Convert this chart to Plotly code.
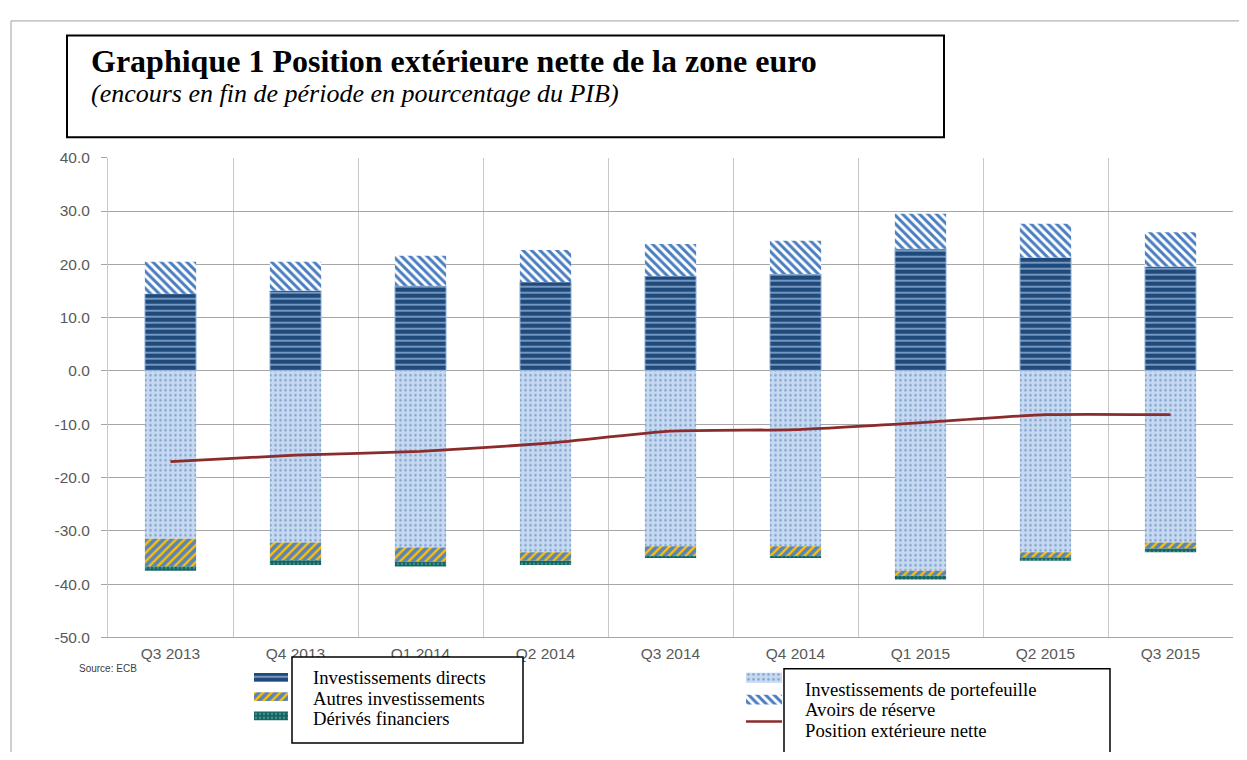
import plotly.graph_objects as go

# ---------------- data ----------------
quarters = ["Q3 2013", "Q4 2013", "Q1 2014", "Q2 2014", "Q3 2014",
            "Q4 2014", "Q1 2015", "Q2 2015", "Q3 2015"]
direct_inv = [14.5, 15.1, 16.0, 16.7, 17.8, 18.2, 22.9, 21.3, 19.6]
reserves = [6.0, 5.4, 5.6, 6.0, 6.0, 6.2, 6.6, 6.3, 6.4]
portfolio = [-31.5, -32.2, -33.1, -34.0, -32.9, -32.9, -37.5, -34.0, -32.2]
other_inv = [-5.2, -3.3, -2.7, -1.6, -1.8, -1.8, -0.9, -1.0, -1.1]
derivatives = [-0.8, -0.9, -0.9, -0.8, -0.4, -0.4, -0.7, -0.6, -0.7]
net_position = [-17.0, -15.8, -15.1, -13.6, -11.3, -11.0, -9.7, -8.2, -8.2]

y_tickvals = [40, 30, 20, 10, 0, -10, -20, -30, -40, -50]
y_ticktext = ["40.0", "30.0", "20.0", "10.0", "0.0", "-10.0", "-20.0", "-30.0", "-40.0", "-50.0"]

legend_left = ["Investissements directs", "Autres investissements", "Dérivés financiers"]
legend_right = ["Investissements de portefeuille", "Avoirs de réserve", "Position extérieure nette"]
legend_key_len = [1, 1, 1]

title_text = "Graphique 1 Position extérieure nette de la zone euro"
subtitle_text = "(encours en fin de période en pourcentage du PIB)"
source_text = "Source: ECB"

# ---------------- geometry helpers ----------------
# the page body adds an 8px margin; page coordinates p map to figure coords p - 8
OFF = 8
W, H = 1247 - 2 * OFF, 760 - 2 * OFF
PLOT_L, PLOT_R, PLOT_T, PLOT_B = 108, 1233, 152, 643


def fx(p):
    return (p - OFF) / W


def fy(p):
    return (H - (p - OFF)) / H


# ---------------- styles ----------------
st_direct = dict(color="#1F4A7C", pattern=dict(shape="-", fgcolor="#A3BEE0", bgcolor="#1F4A7C",
                                                size=6, solidity=0.22, fillmode="replace"))
st_reserve = dict(color="#3F74B8", pattern=dict(shape="\\", fgcolor="#4A7EC0", bgcolor="#FFFFFF",
                                                 size=6, solidity=0.5, fillmode="replace"))
st_portfolio = dict(color="#C6D9F0", pattern=dict(shape=".", fgcolor="#7FA2D0", bgcolor="#C6D9F0",
                                                   size=5, solidity=0.2, fillmode="replace"))
st_other = dict(color="#4F81BD", pattern=dict(shape="/", fgcolor="#FFC000", bgcolor="#5A84B8",
                                               size=6, solidity=0.4, fillmode="replace"))
st_deriv = dict(color="#1B5E6B", pattern=dict(shape=".", fgcolor="#2E9E78", bgcolor="#1B5E6B",
                                               size=4, solidity=0.3, fillmode="replace"))
line_color = "#8B2B2B"

bar_w = 0.41
fig = go.Figure()

fig.add_trace(go.Bar(x=quarters, y=direct_inv, name=legend_left[0], width=bar_w,
                     marker=dict(**st_direct, line=dict(width=1, color="#A9C4E6"))))
fig.add_trace(go.Bar(x=quarters, y=reserves, name=legend_right[1], width=bar_w,
                     marker=dict(**st_reserve, line=dict(width=0))))
fig.add_trace(go.Bar(x=quarters, y=portfolio, name=legend_right[0], width=bar_w,
                     marker=dict(**st_portfolio, line=dict(width=0))))
fig.add_trace(go.Bar(x=quarters, y=other_inv, name=legend_left[1], width=bar_w,
                     marker=dict(**st_other, line=dict(width=0))))
fig.add_trace(go.Bar(x=quarters, y=derivatives, name=legend_left[2], width=bar_w,
                     marker=dict(**st_deriv, line=dict(width=0))))
fig.add_trace(go.Scatter(x=quarters, y=net_position, name=legend_right[2], mode="lines",
                         line=dict(color=line_color, width=2.8, shape="spline", smoothing=0.5)))

# ---------------- legend keys (mini axes) ----------------
left_styles = [st_direct, st_other, st_deriv]
for name, st, v in zip(legend_left, left_styles, legend_key_len):
    fig.add_trace(go.Bar(y=[name], x=[v], orientation="h", width=0.45, xaxis="x2", yaxis="y2",
                         marker=dict(**st, line=dict(width=0)), showlegend=False, hoverinfo="skip"))
right_styles = [st_portfolio, st_reserve]
for name, st, v in zip(legend_right[:2], right_styles, legend_key_len[:2]):
    fig.add_trace(go.Bar(y=[name], x=[v], orientation="h", width=0.45, xaxis="x3", yaxis="y3",
                         marker=dict(**st, line=dict(width=0)), showlegend=False, hoverinfo="skip"))
fig.add_trace(go.Scatter(y=[legend_right[2], legend_right[2]], x=[0, legend_key_len[2]],
                         mode="lines", xaxis="x3", yaxis="y3", line=dict(color=line_color, width=2.5),
                         showlegend=False, hoverinfo="skip"))

axis_font = dict(family="Liberation Sans, Arial, sans-serif", size=15.5, color="#595959")
grid_c = "#A6A6A6"

fig.update_layout(
    width=W, height=H,
    margin=dict(l=0, r=0, t=0, b=0),
    paper_bgcolor="white", plot_bgcolor="white",
    barmode="relative",
    showlegend=False,
    xaxis=dict(domain=[fx(PLOT_L), fx(PLOT_R)], type="category", tickson="boundaries",
               showgrid=True, gridcolor="#C8C8C8", gridwidth=1, ticks="", tickfont=axis_font,
               showline=True, linecolor=grid_c, zeroline=False, range=[-0.5, 8.5], anchor="y",
               ticklabelstandoff=2),
    yaxis=dict(domain=[fy(PLOT_B), fy(PLOT_T)], range=[-50, 40], tickvals=y_tickvals,
               ticktext=y_ticktext, showgrid=True, gridcolor=grid_c, gridwidth=1, zeroline=False,
               ticks="outside", ticklen=6, tickcolor=grid_c, tickfont=axis_font, showline=True,
               linecolor="#C8C8C8", ticklabelstandoff=8, anchor="x"),
    xaxis2=dict(domain=[fx(254), fx(288)], range=[0, 1], visible=False, anchor="y2"),
    yaxis2=dict(domain=[fy(733), fy(674)], type="category", autorange="reversed",
                visible=False, anchor="x2"),
    xaxis3=dict(domain=[fx(746), fx(782)], range=[0, 1], visible=False, anchor="y3"),
    yaxis3=dict(domain=[fy(732), fy(673)], type="category", autorange="reversed",
                visible=False, anchor="x3"),
)

shapes = []
# outer frame
shapes.append(dict(type="rect", xref="paper", yref="paper", x0=fx(11), x1=fx(1244), y0=fy(790), y1=fy(12),
                   line=dict(color="#A0A0A0", width=1), fillcolor="rgba(0,0,0,0)", layer="below"))
# title box
shapes.append(dict(type="rect", xref="paper", yref="paper", x0=fx(67), x1=fx(944), y0=fy(131), y1=fy(27),
                   line=dict(color="black", width=2), fillcolor="white"))
# legend boxes
shapes.append(dict(type="rect", xref="paper", yref="paper", x0=fx(292), x1=fx(523), y0=fy(751), y1=fy(663),
                   line=dict(color="black", width=1.5), fillcolor="white", layer="above"))
shapes.append(dict(type="rect", xref="paper", yref="paper", x0=fx(784), x1=fx(1110), y0=fy(790), y1=fy(675),
                   line=dict(color="black", width=1.5), fillcolor="white", layer="above"))
fig.update_layout(shapes=shapes)

serif = "Liberation Serif, Times New Roman, serif"
ann = []
ann.append(dict(text="<b>" + title_text + "</b>", x=fx(89), y=fy(53), xref="paper", yref="paper",
                xanchor="left", yanchor="middle", showarrow=False,
                font=dict(family=serif, size=32, color="black")))
ann.append(dict(text="<i>" + subtitle_text + "</i>", x=fx(89), y=fy(86), xref="paper", yref="paper",
                xanchor="left", yanchor="middle", showarrow=False,
                font=dict(family=serif, size=26, color="black")))
ann.append(dict(text=source_text, x=fx(77), y=fy(675), xref="paper", yref="paper",
                xanchor="left", yanchor="middle", showarrow=False,
                font=dict(family="Liberation Sans, Arial, sans-serif", size=10, color="#404040")))
for i, t in enumerate(legend_left):
    ann.append(dict(text=t, x=fx(311), y=fy(684 + i * 21), xref="paper", yref="paper",
                    xanchor="left", yanchor="middle", showarrow=False,
                    font=dict(family=serif, size=18.7, color="black")))
for i, t in enumerate(legend_right):
    ann.append(dict(text=t, x=fx(803), y=fy(696 + i * 21), xref="paper", yref="paper",
                    xanchor="left", yanchor="middle", showarrow=False,
                    font=dict(family=serif, size=18.7, color="black")))
fig.update_layout(annotations=ann)

fig.write_html("out.html")
